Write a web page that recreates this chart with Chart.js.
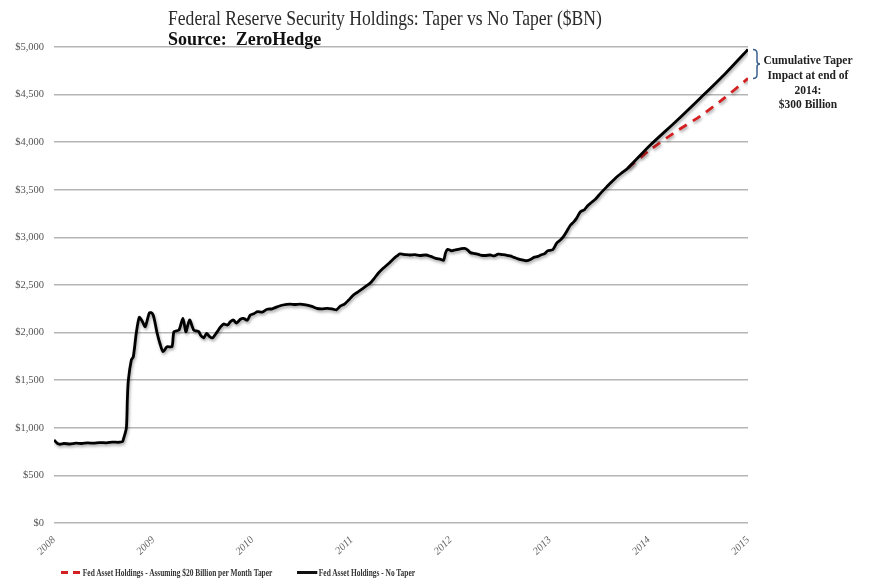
<!DOCTYPE html>
<html>
<head>
<meta charset="utf-8">
<script src="https://cdn.jsdelivr.net/npm/chart.js@4/dist/chart.umd.min.js"></script>
<style>
  body { margin: 0; background: #fff; }
  #wrap { position: relative; width: 877px; height: 582px; font-family: "Liberation Serif", "DejaVu Serif", serif; }
  #chart { position: absolute; left: 0; top: 0; }
  .title { position: absolute; left: 168px; top: 5px; font-size: 22px; color: #2a2a2a; white-space: nowrap; transform: scaleX(0.80); transform-origin: left top; }
  .source { position: absolute; left: 168px; top: 29px; font-size: 18px; font-weight: bold; color: #111; white-space: nowrap; transform: scaleX(1.0); transform-origin: left top; }
  .note { position: absolute; left: 756px; top: 53px; width: 104px; text-align: center; font-size: 11.5px; line-height: 14.8px; font-weight: bold; color: #222; }
  .legend { position: absolute; top: 568px; font-size: 9.5px; font-weight: bold; color: #333; white-space: nowrap; transform: scaleX(0.78); transform-origin: left top; }
  .legend span.key { display: inline-block; width: 26px; height: 3px; vertical-align: middle; margin-right: 2px; position: relative; top: -1px; }
</style>
</head>
<body>
<div id="wrap">
  <canvas id="chart" width="877" height="582"></canvas>
  <div class="title">Federal Reserve Security Holdings: Taper vs No Taper ($BN)</div>
  <div class="source">Source:&nbsp; ZeroHedge</div>
  <div class="note">Cumulative Taper Impact at end of 2014:<br>$300 Billion</div>
  <div class="legend" style="left:61px"><span class="key" style="background:repeating-linear-gradient(90deg,#d42020 0 9px,transparent 9px 16px)"></span>Fed Asset Holdings - Assuming $20 Billion per Month Taper</div>
  <div class="legend" style="left:297px"><span class="key" style="background:#111"></span>Fed Asset Holdings - No Taper</div>
</div>
<script>
// weekly holdings (decimal year, $BN)
var noTaperYears = [
  2008.00, 2008.03, 2008.06, 2008.10, 2008.16, 2008.22, 2008.28, 2008.34, 2008.40, 2008.46,
  2008.53, 2008.59, 2008.65, 2008.69, 2008.70, 2008.73, 2008.74, 2008.75, 2008.78, 2008.80,
  2008.83, 2008.86, 2008.89, 2008.92, 2008.96, 2008.98, 2009.00, 2009.02, 2009.04, 2009.07,
  2009.10, 2009.14, 2009.19, 2009.21, 2009.26, 2009.30, 2009.33, 2009.35, 2009.37, 2009.41,
  2009.46, 2009.48, 2009.51, 2009.54, 2009.57, 2009.60, 2009.64, 2009.68, 2009.71, 2009.75,
  2009.78, 2009.81, 2009.84, 2009.88, 2009.91, 2009.95, 2009.98, 2010.02, 2010.05, 2010.10,
  2010.15, 2010.20, 2010.25, 2010.31, 2010.38, 2010.43, 2010.48, 2010.54, 2010.60, 2010.65,
  2010.70, 2010.76, 2010.82, 2010.85, 2010.89, 2010.93, 2010.97, 2011.02, 2011.07, 2011.11,
  2011.15, 2011.19, 2011.23, 2011.27, 2011.32, 2011.37, 2011.42, 2011.46, 2011.49, 2011.54,
  2011.59, 2011.64, 2011.69, 2011.75, 2011.80, 2011.85, 2011.90, 2011.93, 2011.95, 2011.97,
  2012.01, 2012.05, 2012.10, 2012.14, 2012.17, 2012.20, 2012.25, 2012.30, 2012.35, 2012.40,
  2012.44, 2012.48, 2012.52, 2012.56, 2012.60, 2012.64, 2012.68, 2012.72, 2012.77, 2012.81,
  2012.84, 2012.88, 2012.91, 2012.95, 2012.98, 2013.03, 2013.07, 2013.11, 2013.14, 2013.17,
  2013.21, 2013.24, 2013.27, 2013.31, 2013.35, 2013.38, 2013.41, 2013.46, 2013.51, 2013.56,
  2013.61, 2013.67, 2013.73, 2013.79, 2014.01, 2014.27, 2014.52, 2014.77, 2015.00
];
var noTaperValues = [
  872, 840, 827, 835, 830, 838, 835, 842, 838, 845,
  842, 850, 848, 855, 880, 1000, 1300, 1500, 1712, 1747,
  1996, 2160, 2120, 2062, 2203, 2210, 2185, 2100, 1996, 1880,
  1800, 1852, 1852, 2010, 2027, 2150, 2010, 2080, 2132, 2027,
  2010, 1970, 1945, 1992, 1957, 1945, 2000, 2060, 2090, 2080,
  2115, 2132, 2100, 2140, 2150, 2130, 2185, 2200, 2220, 2215,
  2245, 2250, 2270, 2290, 2300, 2295, 2300, 2290, 2275, 2255,
  2250, 2255, 2245, 2240, 2280, 2300, 2340, 2395, 2430, 2460,
  2490, 2520, 2570, 2623, 2675, 2720, 2770, 2805, 2826, 2820,
  2815, 2818, 2810, 2815, 2800, 2780, 2770, 2760, 2840, 2875,
  2860, 2870, 2880, 2885, 2870, 2840, 2830, 2815, 2810, 2815,
  2805, 2825, 2820, 2815, 2805, 2790, 2775, 2765, 2755, 2770,
  2790, 2800, 2815, 2830, 2860, 2870, 2940, 2975, 3010, 3060,
  3130, 3160, 3200, 3270, 3290, 3330, 3358, 3400, 3460, 3515,
  3568, 3630, 3680, 3730, 3965, 4215, 4465, 4720, 4975
];
var taperYears = [2013.79, 2014.01, 2014.27, 2014.52, 2014.77, 2015.00];
var taperValues = [3730, 3918, 4110, 4275, 4470, 4670];
var yearTicks = [2008, 2009, 2010, 2011, 2012, 2013, 2014, 2015];

function toPoints(xs, ys) {
  return xs.map(function(x, i) { return { x: x, y: ys[i] }; });
}

// soft drop shadow under the lines + the brace next to the end gap
var extras = {
  id: 'extras',
  beforeDatasetDraw: function(chart, args) {
    var ctx = chart.ctx;
    ctx.save();
    ctx.shadowColor = 'rgba(0,0,0,0.35)';
    ctx.shadowBlur = 3;
    ctx.shadowOffsetX = 1;
    ctx.shadowOffsetY = 2;
  },
  afterDatasetDraw: function(chart) {
    chart.ctx.restore();
  },
  afterDraw: function(chart) {
    var ctx = chart.ctx, y = chart.scales.y;
    var top = y.getPixelForValue(noTaperValues[noTaperValues.length - 1]);
    var bot = y.getPixelForValue(taperValues[taperValues.length - 1]);
    var mid = (top + bot) / 2;
    var x = chart.chartArea.right + 5;
    ctx.save();
    ctx.strokeStyle = '#3a5f8f';
    ctx.lineWidth = 1.5;
    ctx.beginPath();
    ctx.moveTo(x, top);
    ctx.quadraticCurveTo(x + 4, top, x + 4, top + 4);
    ctx.lineTo(x + 4, mid - 3);
    ctx.quadraticCurveTo(x + 4, mid, x + 7, mid);
    ctx.quadraticCurveTo(x + 4, mid, x + 4, mid + 3);
    ctx.lineTo(x + 4, bot - 4);
    ctx.quadraticCurveTo(x + 4, bot, x, bot);
    ctx.stroke();
    ctx.restore();
  }
};

new Chart(document.getElementById('chart').getContext('2d'), {
  type: 'line',
  data: {
    datasets: [
      {
        label: 'Fed Asset Holdings - No Taper',
        data: toPoints(noTaperYears, noTaperValues),
        borderColor: '#000',
        borderWidth: 2.8,
        pointRadius: 0,
        tension: 0.25
      },
      {
        label: 'Fed Asset Holdings - Assuming $20 Billion per Month Taper',
        data: toPoints(taperYears, taperValues),
        borderColor: '#d42020',
        borderWidth: 2.8,
        borderDash: [9, 7],
        pointRadius: 0,
        tension: 0.2
      }
    ]
  },
  options: {
    responsive: false,
    animation: false,
    layout: { padding: { left: 0, right: 129, top: 47, bottom: 0 } },
    plugins: { legend: { display: false }, tooltip: { enabled: false } },
    scales: {
      x: {
        type: 'linear',
        min: 2008,
        max: 2015,
        afterFit: function(s) { s.height = 59; },
        afterBuildTicks: function(s) { s.ticks = yearTicks.map(function(v) { return { value: v }; }); },
        grid: { display: false },
        border: { display: false },
        ticks: {
          minRotation: 45,
          maxRotation: 45,
          padding: 3,
          color: '#666',
          font: { family: '"Liberation Serif", serif', size: 10.5, style: 'italic' },
          callback: function(v) { return String(v); }
        }
      },
      y: {
        min: 0,
        max: 5000,
        afterFit: function(s) { s.width = 54; },
        grid: { color: '#b5b5b5', lineWidth: 1.5, drawTicks: false },
        border: { display: false },
        ticks: {
          stepSize: 500,
          padding: 10,
          color: '#555',
          font: { family: '"Liberation Serif", serif', size: 10.5 },
          callback: function(v) { return '$' + v.toLocaleString('en-US'); }
        }
      }
    }
  },
  plugins: [extras]
});
</script>
</body>
</html>
